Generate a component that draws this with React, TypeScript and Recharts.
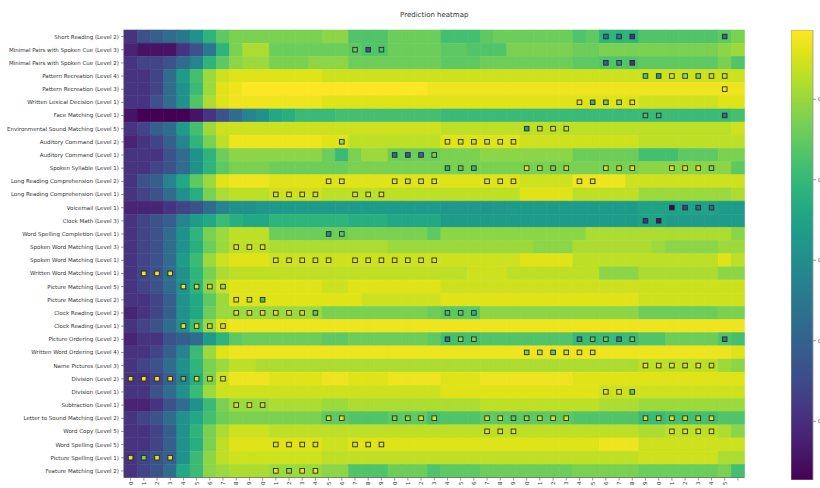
import React from "react";
import { BarChart, Bar, XAxis, YAxis } from "recharts";

// task names, top to bottom
const rowNames = [
  "Short Reading (Level 2)",
  "Minimal Pairs with Spoken Cue (Level 3)",
  "Minimal Pairs with Spoken Cue (Level 2)",
  "Pattern Recreation (Level 4)",
  "Pattern Recreation (Level 3)",
  "Written Lexical Decision (Level 1)",
  "Face Matching (Level 1)",
  "Environmental Sound Matching (Level 5)",
  "Auditory Command (Level 2)",
  "Auditory Command (Level 1)",
  "Spoken Syllable (Level 1)",
  "Long Reading Comprehension (Level 2)",
  "Long Reading Comprehension (Level 1)",
  "Voicemail (Level 1)",
  "Clock Math (Level 3)",
  "Word Spelling Completion (Level 1)",
  "Spoken Word Matching (Level 3)",
  "Spoken Word Matching (Level 1)",
  "Written Word Matching (Level 1)",
  "Picture Matching (Level 5)",
  "Picture Matching (Level 2)",
  "Clock Reading (Level 2)",
  "Clock Reading (Level 1)",
  "Picture Ordering (Level 2)",
  "Written Word Ordering (Level 4)",
  "Name Pictures (Level 3)",
  "Division (Level 2)",
  "Division (Level 1)",
  "Subtraction (Level 1)",
  "Letter to Sound Matching (Level 2)",
  "Word Copy (Level 5)",
  "Word Spelling (Level 5)",
  "Picture Spelling (Level 1)",
  "Feature Matching (Level 2)",
];

// 47 columns, the last one has no label
const xTickLabels = [
  "0", "1", "2", "3", "4", "5", "6", "7", "8", "9",
  "0", "1", "2", "3", "4", "5", "6", "7", "8", "9",
  "0", "1", "2", "3", "4", "5", "6", "7", "8", "9",
  "0", "1", "2", "3", "4", "5", "6", "7", "8", "9",
  "0", "1", "2", "3", "4", "5", "",
];

// cell levels, run-length tokens: level char + optional repeat count
// levels: 0-9 -> 0.00..0.45 (step .05), A-U -> 0.50..1.00 (step .025)
const cellRows = [
  "3 5 6 7 8 A G K M7 N2 J3 L4 I3 K L6 J K G3 J6 K M",
  "2 1 1 1 3 5 8 G M P2 L6 K J2 L4 K2 J3 M5 L2 M9 N O",
  "3 4 4 5 7 9 G K N O2 M3 N3 L7 K3 L7 K2 J3 K6 M J",
  "3 3 4 7 C I O R S7 R32",
  "3 3 4 7 A H O S T U14 T24",
  "3 3 5 7 A J P S T7 S24 R6 S2",
  "1 0 0 0 0 1 3 5 7 9 A E F H H H I8 H22 I",
  "3 4 6 7 C I O R R16 Q22 R",
  "2 3 4 6 9 G M Q T7 S2 Q7 S6 R9 Q8",
  "3 3 3 5 7 A G L N7 L H M O2 L4 M3 N7 L5 I3 K3 M2",
  "3 3 4 5 7 A G K M3 L6 M22 N7 K",
  "3 5 6 9 E K O S T3 S19 R4 T4 R9",
  "3 4 5 7 A F M P Q3 R4 Q15 S4 Q5 O7 P",
  "2 2 2 3 4 5 7 9 A2 B2 C12 B5 C10 D6 C2",
  "3 4 5 6 9 C E H F E2 G6 F3 E4 C15 D2 C6",
  "3 4 5 7 A G M O Q3 L6 M6 K N11 P11 N",
  "3 4 5 7 A F L O Q3 P9 O11 N3 P6 O N4 O2",
  "3 4 5 7 C H O R S3 R19 S4 Q11 S Q",
  "3 4 5 7 A G M P Q18 R3 Q7 N3 P6 N2",
  "3 4 5 7 A G N R S7 R2 S7 R23",
  "3 3 4 6 A E K O S10 R6 S15 R8",
  "2 3 4 6 A E L O O7 M8 L K3 N12 L6 M2",
  "3 4 5 7 A H O S T39",
  "2 3 3 5 6 7 C G K L6 K2 L6 K I3 J7 H5 J2 L4 J I",
  "3 3 4 6 9 H O S T38 S",
  "3 4 5 7 A G M O Q2 P29 Q6 O N",
  "3 3 4 6 9 F M R T3 S4 T2 S3 T4 S3 T7 S13",
  "3 3 5 7 A H O R R16 S12 R11",
  "2 2 3 5 7 A H M O3 P4 O2 P10 Q9 P3 O8",
  "3 4 5 7 A E I L M7 K2 J3 K3 I J3 K7 J5 H2 I4 J2",
  "3 3 4 6 A G M P R3 Q28 P2 Q4 P N",
  "3 3 4 6 A F M Q S7 R2 S19 T3 R8",
  "3 4 5 6 A H N Q R7 Q24 R6 P2",
  "3 4 5 7 E H N O P3 O4 N2 J3 L3 J K3 L7 M5 L6 M I",
];

// marked cells: [row, first column, levels of consecutive marks]
const markRuns: [number, number, string][] = [
  [0, 36, "883"], [0, 45, "7"],
  [1, 17, "K5I"],
  [2, 36, "6A3"],
  [3, 39, "JCSOMQR"],
  [4, 45, "T"],
  [5, 34, "SGLOS"],
  [6, 39, "IH"], [6, 45, "7"],
  [7, 30, "BQRQ"],
  [8, 16, "O"], [8, 24, "SRRRSR"],
  [9, 20, "767M"],
  [10, 24, "FKG"], [10, 30, "SQMQ"], [10, 36, "RQS"], [10, 41, "SSSM"],
  [11, 15, "SS"], [11, 20, "SRSS"], [11, 27, "SSS"], [11, 34, "SS"],
  [12, 11, "RSSR"], [12, 17, "SSS"],
  [13, 41, "0477"],
  [14, 39, "31"],
  [15, 15, "AK"],
  [16, 8, "SSS"],
  [17, 11, "SSSSS"], [17, 17, "SSSSSSS"],
  [18, 1, "TTT"],
  [19, 4, "TRRO"],
  [20, 8, "SRI"],
  [21, 8, "SSSSSRK"], [21, 24, "IKG"],
  [22, 4, "TSQR"],
  [23, 24, "8OM"], [23, 34, "AKK9K"], [23, 45, "8"],
  [24, 30, "MQKRSR"],
  [25, 39, "SSSRSR"],
  [26, 0, "TTTTKSSS"],
  [27, 36, "SSK"],
  [28, 8, "SSR"],
  [29, 15, "SS"], [29, 20, "MOSS"], [29, 27, "RSKORSS"], [29, 39, "SSSRRS"],
  [30, 27, "SSS"], [30, 41, "SSSS"],
  [31, 11, "SSSS"], [31, 17, "SSS"],
  [32, 0, "TMSS"],
  [33, 11, "TOTT"],
];

const cbTicks = [0.4, 0.5, 0.6, 0.7, 0.8];
const cbDomain = [0.327, 0.886];

const LEVELS = "0123456789ABCDEFGHIJKLMNOPQRSTU";
const level = (ch: string) => {
  const i = LEVELS.indexOf(ch);
  return i < 10 ? i * 0.05 : 0.5 + (i - 10) * 0.025;
};

const decodeRow = (s: string) => {
  const out: number[] = [];
  s.split(" ").forEach((tok) => {
    const n = tok.length > 1 ? parseInt(tok.slice(1), 10) : 1;
    for (let k = 0; k < n; k++) out.push(level(tok[0]));
  });
  return out;
};

const cells = cellRows.map(decodeRow);
const marks = new Map<string, number>();
markRuns.forEach(([r, c, lv]) => {
  lv.split("").forEach((ch, k) => marks.set(`${r}-${c + k}`, level(ch)));
});

const VIRIDIS = [
  "#440154", "#471365", "#482475", "#463480", "#414487", "#3b528b", "#355f8d",
  "#2f6c8e", "#2a788e", "#25848e", "#21918c", "#1e9c89", "#22a884", "#2fb47c",
  "#44bf70", "#5ec962", "#7ad151", "#9bd93c", "#bddf26", "#dfe318", "#fde725",
];

function viridis(v: number) {
  const t = Math.max(0, Math.min(1, v)) * (VIRIDIS.length - 1);
  const i = Math.min(VIRIDIS.length - 2, Math.floor(t));
  const f = t - i;
  const a = VIRIDIS[i], b = VIRIDIS[i + 1];
  const ch = (hex: string, k: number) => parseInt(hex.slice(1 + 2 * k, 3 + 2 * k), 16);
  const mix = [0, 1, 2].map((k) => Math.round(ch(a, k) + (ch(b, k) - ch(a, k)) * f));
  return `rgb(${mix[0]},${mix[1]},${mix[2]})`;
}

const FONT = "DejaVu Sans, sans-serif";

const tableData = rowNames.map((name, r) => {
  const d: Record<string, any> = { name, row: r };
  xTickLabels.forEach((_, c) => (d[`c${c}`] = 1));
  return d;
});

function HeatCell(props: any) {
  const { x, y, width, height, payload, col } = props;
  const r = payload.row;
  const fill = viridis(cells[r][col] ?? 0.8);
  const m = marks.get(`${r}-${col}`);
  const s = 4.6;
  const cx = x + width / 2;
  const cy = y + height / 2;
  return (
    <g>
      <rect x={x} y={y} width={width} height={height} fill={fill} stroke={fill} strokeWidth={0.6} />
      {m !== undefined && (
        <rect x={cx - s / 2} y={cy - s / 2} width={s} height={s} fill={viridis(m)} stroke="#2b2b2b" strokeWidth={0.9} />
      )}
    </g>
  );
}

function XTick(props: any) {
  const { x, y, payload } = props;
  const label = xTickLabels[Math.floor(payload.value)];
  return (
    <text
      x={x}
      y={y - 1}
      transform={`rotate(-90, ${x}, ${y - 1})`}
      textAnchor="end"
      dy="0.35em"
      fontSize={5.5}
      fontFamily={FONT}
      fill="#333"
    >
      {label}
    </text>
  );
}

function YTick(props: any) {
  const { x, y, payload } = props;
  return (
    <text x={x} y={y} textAnchor="end" dy="0.35em" fontSize={5.5} fontFamily={FONT} fill="#333">
      {payload.value}
    </text>
  );
}

export default function App() {
  return (
    <div
      style={{
        position: "fixed",
        left: 0,
        top: 0,
        width: 820,
        height: 488,
        overflow: "hidden",
        background: "#fff",
        fontFamily: FONT,
      }}
    >
      <div
        style={{
          position: "absolute",
          top: 11,
          left: 124,
          width: 620.5,
          textAlign: "center",
          fontSize: 7,
          color: "#333",
          lineHeight: "9px",
        }}
      >
        Prediction heatmap
      </div>

      <div style={{ position: "absolute", left: 0, top: 0 }}>
        <BarChart
          width={820}
          height={488}
          data={tableData}
          layout="vertical"
          barCategoryGap={0}
          barGap={0}
          margin={{ top: 30, right: 75.5, bottom: 0, left: 0 }}
        >
          <XAxis
            type="number"
            domain={[0, 47]}
            ticks={xTickLabels.map((_, i) => i + 0.5)}
            interval={0}
            height={10.5}
            tickSize={3}
            tick={<XTick />}
            tickLine={{ stroke: "#555", strokeWidth: 0.6 }}
            axisLine={{ stroke: "#555", strokeWidth: 0.6 }}
            allowDecimals
          />
          <XAxis
            xAxisId="top"
            orientation="top"
            type="number"
            domain={[0, 47]}
            height={0}
            tick={false}
            tickLine={false}
            axisLine={{ stroke: "#555", strokeWidth: 0.6 }}
          />
          <YAxis
            type="category"
            dataKey="name"
            width={124}
            interval={0}
            tickSize={3}
            tick={<YTick />}
            tickLine={{ stroke: "#555", strokeWidth: 0.6 }}
            axisLine={{ stroke: "#555", strokeWidth: 0.6 }}
          />
          <YAxis
            yAxisId="right"
            orientation="right"
            type="category"
            dataKey="name"
            width={0}
            tick={false}
            tickLine={false}
            axisLine={{ stroke: "#555", strokeWidth: 0.6 }}
          />
          {xTickLabels.map((_, c) => (
            <Bar
              key={c}
              dataKey={`c${c}`}
              stackId="heat"
              isAnimationActive={false}
              shape={(p: any) => <HeatCell {...p} col={c} />}
            />
          ))}
        </BarChart>
      </div>

      {/* colour bar */}
      <div style={{ position: "absolute", left: 790.5, top: 0 }}>
        <BarChart
          width={60}
          height={488}
          data={[{ name: "cb", range: cbDomain }]}
          barCategoryGap={0}
          margin={{ top: 30, right: 0, bottom: 8, left: 0 }}
        >
          <defs>
            <linearGradient id="cbGrad" x1="0" y1="1" x2="0" y2="0">
              {VIRIDIS.map((c, i) => (
                <stop key={i} offset={`${(i / (VIRIDIS.length - 1)) * 100}%`} stopColor={c} />
              ))}
            </linearGradient>
          </defs>
          <XAxis dataKey="name" hide />
          <YAxis
            orientation="right"
            type="number"
            domain={cbDomain}
            ticks={cbTicks}
            width={38}
            tickSize={3}
            tick={{ fontSize: 5.5, fontFamily: FONT, fill: "#333" }}
            tickLine={{ stroke: "#555", strokeWidth: 0.6 }}
            axisLine={false}
            allowDataOverflow
          />
          <Bar
            dataKey="range"
            fill="url(#cbGrad)"
            stroke="#9a9a9a"
            strokeWidth={0.8}
            isAnimationActive={false}
          />
        </BarChart>
      </div>
    </div>
  );
}
